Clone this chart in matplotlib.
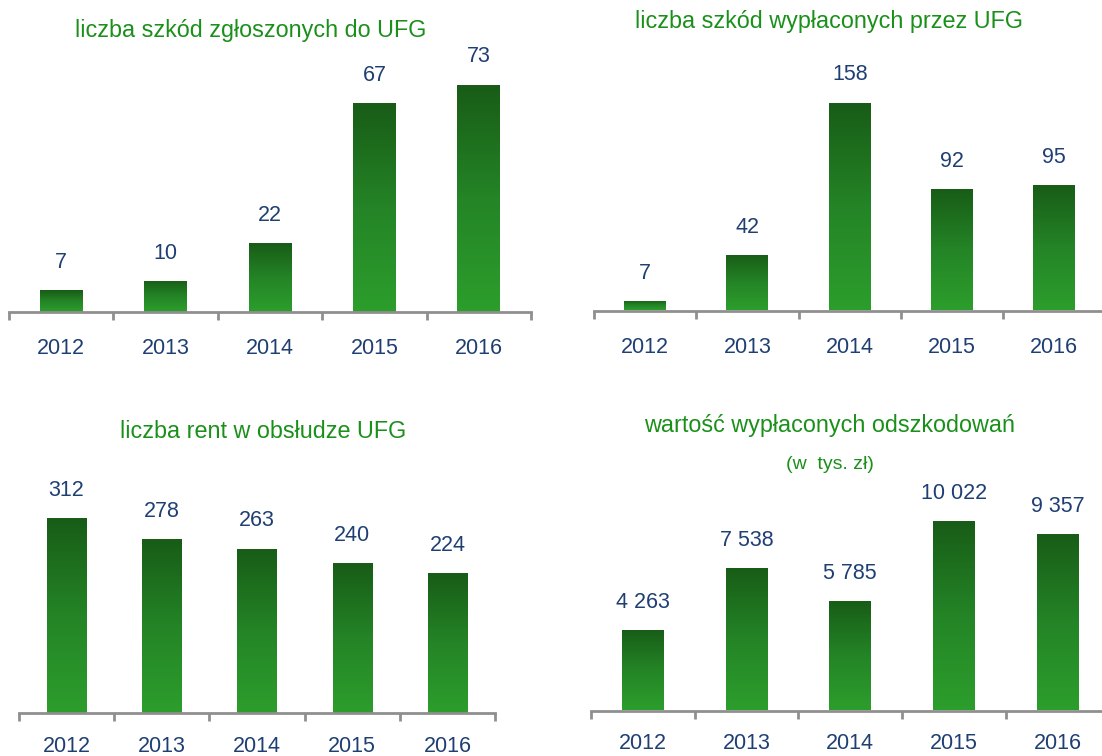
import matplotlib.pyplot as plt
import numpy as np
from matplotlib.colors import LinearSegmentedColormap

plt.rcParams['font.family'] = ['Liberation Sans', 'DejaVu Sans']

years = ["2012", "2013", "2014", "2015", "2016"]
zgloszone = [7, 10, 22, 67, 73]
wyplacone = [7, 42, 158, 92, 95]
renty = [312, 278, 263, 240, 224]
wartosc = [4263, 7538, 5785, 10022, 9357]

TITLE_C = "#1a901a"
LABEL_C = "#1f3f73"
AXIS_C = "#8f8f8f"
grad = LinearSegmentedColormap.from_list("g", ["#2c9e2c", "#248426", "#185c17"])

W, H = 1102, 756
fig = plt.figure(figsize=(W / 100, H / 100), dpi=100)


def fmt(v):
    return f"{v:,}".replace(",", " ")


def panel(values, left, spacing, axis_y, px_per_unit, height_px, bar_w, pad=19):
    ax = fig.add_axes([left / W, 1 - axis_y / H, 5 * spacing / W, height_px / H])
    x = np.arange(len(values))
    ymax = height_px / px_per_unit
    bars = ax.bar(x, values, width=bar_w, color="none", edgecolor="none")
    g = np.linspace(0, 1, 256).reshape(-1, 1)
    for b in bars:
        x0, y0 = b.get_x(), b.get_y()
        im = ax.imshow(g, extent=[x0, x0 + b.get_width(), y0, y0 + b.get_height()],
                       aspect="auto", cmap=grad, origin="lower", zorder=2)
        im.set_clip_path(b)
    for xi, v in zip(x, values):
        ax.annotate(fmt(v), (xi, v), xytext=(0, 16), textcoords="offset points",
                    ha="center", va="baseline", fontsize=15.5, color=LABEL_C)
    ax.set_xlim(-0.5, len(values) - 0.5)
    ax.set_ylim(0, ymax)
    for s in ["top", "left", "right"]:
        ax.spines[s].set_visible(False)
    ax.spines["bottom"].set_color(AXIS_C)
    ax.spines["bottom"].set_linewidth(2)
    ax.spines["bottom"].set_zorder(3)
    ax.set_yticks([])
    ax.set_xticks(x, years)
    ax.set_xticks(np.arange(-0.5, len(values)), minor=True)
    ax.tick_params(axis="x", which="major", length=0, pad=pad, labelsize=15.5,
                   labelcolor=LABEL_C)
    ax.tick_params(axis="x", which="minor", length=5.5, width=2, color=AXIS_C)
    ax.patch.set_alpha(0)
    return ax


panel(zgloszone, 9, 104.4, 312, 3.115, 270, 0.41)
panel(wyplacone, 594, 102.3, 310.5, 1.316, 260, 0.41)
panel(renty, 19, 95.2, 713, 0.625, 240, 0.41, pad=16.5)
panel(wartosc, 591, 103.7, 710.5, 0.01886, 240, 0.405, pad=16.5)

fig.text(251 / W, 1 - 37 / H, "liczba szkód zgłoszonych do UFG", ha="center",
         va="baseline", fontsize=16.8, color=TITLE_C)
fig.text(829 / W, 1 - 28 / H, "liczba szkód wypłaconych przez UFG", ha="center",
         va="baseline", fontsize=16.8, color=TITLE_C)
fig.text(263 / W, 1 - 438 / H, "liczba rent w obsłudze UFG", ha="center",
         va="baseline", fontsize=16.8, color=TITLE_C)
fig.text(830 / W, 1 - 432 / H, "wartość wypłaconych odszkodowań", ha="center",
         va="baseline", fontsize=16.8, color=TITLE_C)
fig.text(830 / W, 1 - 469 / H, "(w  tys. zł)", ha="center",
         va="baseline", fontsize=14, color=TITLE_C)

fig.savefig("out.png", dpi=100)
